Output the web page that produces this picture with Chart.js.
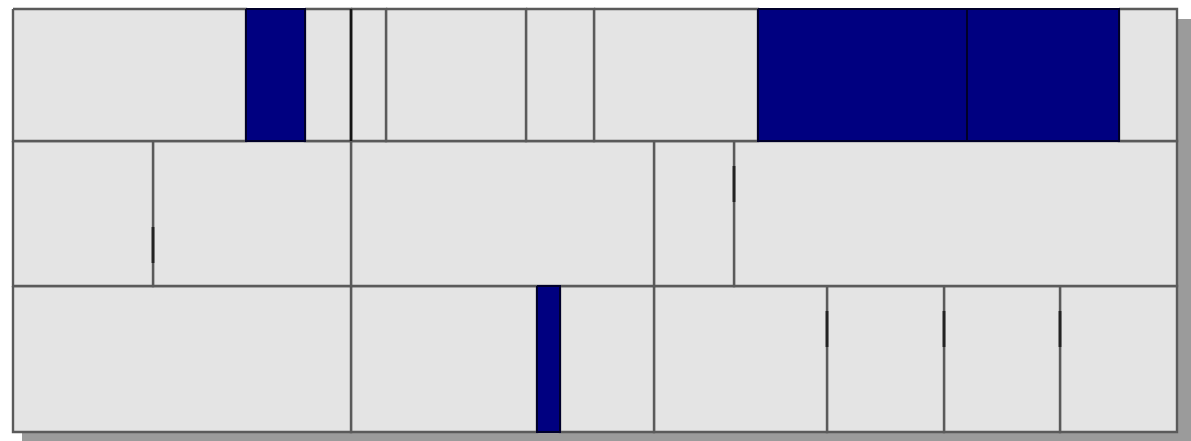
<!DOCTYPE html>
<html>
<head>
<meta charset="utf-8">
<script src="https://cdn.jsdelivr.net/npm/chart.js@4/dist/chart.umd.min.js"></script>
<style>
  html, body { margin: 0; padding: 0; background: #ffffff; }
  #wrap { width: 1191px; height: 441px; position: relative; }
</style>
</head>
<body>
<div id="wrap"><canvas id="c"></canvas></div>
<script>
// Row extents (vertical units, top = 0)
const rowEdges = [0, 132, 277, 423];

// Cell boundaries along the horizontal axis for each row
const row1Bounds = [0, 233, 292, 338, 373, 513, 581, 745, 954, 1106, 1164];
const row2Bounds = [0, 140, 338, 641, 721, 1164];
const row3Bounds = [0, 338, 524, 547, 641, 814, 931, 1047, 1164];

// Highlighted (navy) cells: index of cell within its row
const row1Highlighted = [1, 7, 8];
const row2Highlighted = [];
const row3Highlighted = [2];

// Zero-width highlighted items spanning a full row
const row1Slivers = [338];

// Short dark markers: x position, top, bottom
const markerX = [140, 721, 814, 931, 1047];
const markerTop = [218, 157, 302, 302, 302];
const markerBottom = [254, 193, 338, 338, 338];

const xMax = 1164;
const yMax = 423;

const rows = [row1Bounds, row2Bounds, row3Bounds];
const highlights = [row1Highlighted, row2Highlighted, row3Highlighted];

function rect(x0, x1, y0, y1) {
  return [
    {x: x0, y: y0}, {x: x1, y: y0}, {x: x1, y: y1}, {x: x0, y: y1}, {x: x0, y: y0}
  ];
}

const datasets = [];
rows.forEach((bounds, r) => {
  const y0 = rowEdges[r], y1 = rowEdges[r + 1];
  for (let i = 0; i < bounds.length - 1; i++) {
    const hi = highlights[r].includes(i);
    datasets.push({
      data: rect(bounds[i], bounds[i + 1], y0, y1),
      showLine: true,
      fill: 'shape',
      backgroundColor: hi ? '#000080' : '#e4e4e4',
      borderColor: hi ? '#00002a' : '#5a5a5a',
      borderWidth: hi ? 2 : 2.4,
      borderJoinStyle: 'miter',
      pointRadius: 0,
      tension: 0,
      clip: 3,
      order: hi ? 2 : 3
    });
  }
});
row1Slivers.forEach(x => {
  datasets.push({
    data: [{x: x, y: rowEdges[0]}, {x: x, y: rowEdges[1]}],
    showLine: true, fill: false,
    borderColor: '#141414', borderWidth: 2.6, pointRadius: 0, order: 1
  });
});
markerX.forEach((x, i) => {
  datasets.push({
    data: [{x: x, y: markerTop[i]}, {x: x, y: markerBottom[i]}],
    showLine: true, fill: false,
    borderColor: '#222222', borderWidth: 2.8, pointRadius: 0, order: 1
  });
});

const shadowPlugin = {
  id: 'shadow',
  beforeDatasetsDraw(chart) {
    const {ctx, chartArea} = chart;
    ctx.save();
    ctx.fillStyle = '#9b9b9b';
    ctx.fillRect(chartArea.left + 9, chartArea.top + 10,
                 chartArea.right - chartArea.left + 6, chartArea.bottom - chartArea.top + 6);
    ctx.restore();
  }
};

new Chart(document.getElementById('c'), {
  type: 'scatter',
  data: { datasets },
  options: {
    responsive: true,
    maintainAspectRatio: false,
    animation: false,
    layout: { padding: { left: 13, right: 14, top: 9, bottom: 9 } },
    plugins: { legend: { display: false }, tooltip: { enabled: false } },
    scales: {
      x: { type: 'linear', min: 0, max: xMax, display: false },
      y: { type: 'linear', min: 0, max: yMax, reverse: true, display: false }
    }
  },
  plugins: [shadowPlugin]
});
</script>
</body>
</html>
